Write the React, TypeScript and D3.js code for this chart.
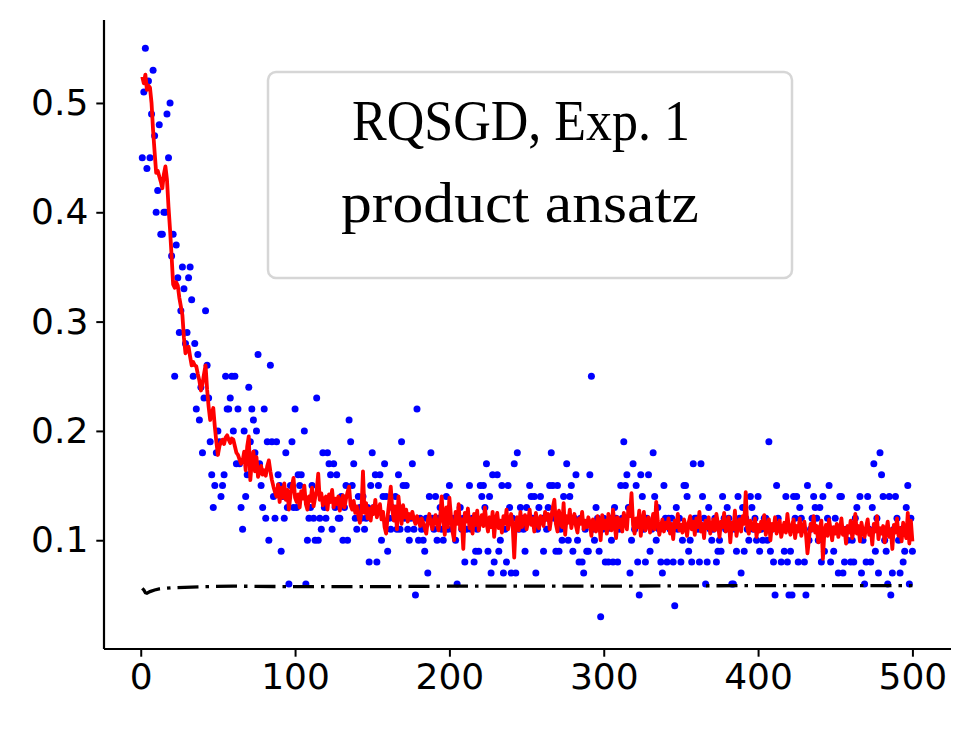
import React, { useEffect, useRef } from 'react';
import * as d3 from 'd3';

// sampled loss per iteration (blue dots), iterations 1..500
const shotLoss = [
  0.45, 0.51, 0.55, 0.44, 0.52, 0.45, 0.49, 0.53, 0.47, 0.40,
  0.42, 0.48, 0.38, 0.38, 0.40, 0.40, 0.49, 0.45, 0.50, 0.36,
  0.38, 0.25, 0.37, 0.34, 0.29, 0.31, 0.35, 0.33, 0.28, 0.29,
  0.34, 0.35, 0.32, 0.25, 0.28, 0.22, 0.27, 0.21, 0.24, 0.18,
  0.23, 0.31, 0.26, 0.23, 0.19, 0.16, 0.13, 0.15, 0.18, 0.20,
  0.19, 0.14, 0.15, 0.16, 0.25, 0.22, 0.22, 0.23, 0.25, 0.20,
  0.25, 0.17, 0.22, 0.17, 0.13, 0.11, 0.20, 0.14, 0.16, 0.24,
  0.19, 0.22, 0.21, 0.18, 0.20, 0.27, 0.17, 0.15, 0.13, 0.22,
  0.12, 0.19, 0.10, 0.26, 0.19, 0.14, 0.12, 0.19, 0.16, 0.15,
  0.09, 0.14, 0.12, 0.18, 0.13, 0.06, 0.15, 0.19, 0.13, 0.22,
  0.13, 0.16, 0.15, 0.16, 0.14, 0.20, 0.06, 0.10, 0.12, 0.13,
  0.15, 0.12, 0.10, 0.23, 0.10, 0.12, 0.11, 0.18, 0.13, 0.12,
  0.18, 0.17, 0.16, 0.11, 0.17, 0.13, 0.16, 0.12, 0.12, 0.14,
  0.10, 0.13, 0.15, 0.10, 0.21, 0.19, 0.15, 0.17, 0.12, 0.11,
  0.14, 0.13, 0.12, 0.14, 0.11, 0.12, 0.13, 0.08, 0.15, 0.18,
  0.13, 0.16, 0.08, 0.15, 0.16, 0.10, 0.14, 0.17, 0.14, 0.09,
  0.12, 0.11, 0.13, 0.12, 0.14, 0.11, 0.16, 0.11, 0.19, 0.15,
  0.12, 0.15, 0.11, 0.10, 0.12, 0.17, 0.11, 0.05, 0.22, 0.10,
  0.12, 0.11, 0.10, 0.09, 0.12, 0.07, 0.14, 0.18, 0.12, 0.11,
  0.14, 0.10, 0.12, 0.13, 0.11, 0.10, 0.12, 0.14, 0.11, 0.15,
  0.12, 0.11, 0.12, 0.10, 0.06, 0.12, 0.13, 0.11, 0.12, 0.08,
  0.11, 0.12, 0.15, 0.11, 0.12, 0.08, 0.09, 0.11, 0.09, 0.15,
  0.14, 0.15, 0.13, 0.17, 0.09, 0.14, 0.07, 0.16, 0.08, 0.12,
  0.16, 0.09, 0.10, 0.15, 0.07, 0.11, 0.08, 0.15, 0.13, 0.07,
  0.12, 0.17, 0.07, 0.18, 0.11, 0.13, 0.12, 0.11, 0.09, 0.13,
  0.12, 0.15, 0.14, 0.12, 0.14, 0.07, 0.11, 0.13, 0.14, 0.12,
  0.09, 0.12, 0.11, 0.13, 0.15, 0.18, 0.15, 0.12, 0.09, 0.15,
  0.09, 0.11, 0.10, 0.14, 0.12, 0.17, 0.10, 0.14, 0.15, 0.09,
  0.12, 0.16, 0.10, 0.08, 0.12, 0.08, 0.07, 0.11, 0.09, 0.09,
  0.16, 0.25, 0.11, 0.10, 0.13, 0.12, 0.09, 0.03, 0.11, 0.12,
  0.08, 0.11, 0.08, 0.12, 0.10, 0.08, 0.13, 0.12, 0.08, 0.11,
  0.15, 0.12, 0.19, 0.15, 0.16, 0.13, 0.07, 0.10, 0.17, 0.11,
  0.15, 0.08, 0.05, 0.16, 0.14, 0.11, 0.08, 0.12, 0.16, 0.09,
  0.11, 0.18, 0.14, 0.10, 0.13, 0.11, 0.08, 0.07, 0.15, 0.12,
  0.08, 0.12, 0.11, 0.12, 0.08, 0.04, 0.13, 0.11, 0.12, 0.08,
  0.10, 0.15, 0.15, 0.14, 0.09, 0.10, 0.08, 0.17, 0.12, 0.12,
  0.11, 0.08, 0.17, 0.14, 0.12, 0.06, 0.08, 0.13, 0.11, 0.10,
  0.11, 0.12, 0.08, 0.09, 0.10, 0.09, 0.14, 0.12, 0.11, 0.13,
  0.12, 0.11, 0.06, 0.06, 0.11, 0.09, 0.14, 0.12, 0.07, 0.13,
  0.09, 0.12, 0.11, 0.10, 0.14, 0.13, 0.11, 0.12, 0.10, 0.14,
  0.09, 0.11, 0.10, 0.12, 0.12, 0.10, 0.19, 0.09, 0.11, 0.08,
  0.05, 0.15, 0.12, 0.11, 0.08, 0.11, 0.09, 0.14, 0.08, 0.05,
  0.09, 0.05, 0.14, 0.12, 0.14, 0.08, 0.13, 0.12, 0.11, 0.08,
  0.05, 0.15, 0.10, 0.11, 0.12, 0.14, 0.13, 0.12, 0.10, 0.13,
  0.08, 0.14, 0.09, 0.11, 0.12, 0.15, 0.08, 0.11, 0.09, 0.12,
  0.11, 0.07, 0.14, 0.14, 0.07, 0.08, 0.11, 0.10, 0.11, 0.08,
  0.10, 0.08, 0.12, 0.13, 0.11, 0.14, 0.07, 0.10, 0.06, 0.08,
  0.14, 0.11, 0.08, 0.13, 0.17, 0.09, 0.12, 0.07, 0.18, 0.16,
  0.14, 0.10, 0.09, 0.06, 0.14, 0.05, 0.07, 0.11, 0.14, 0.12,
  0.10, 0.07, 0.11, 0.08, 0.09, 0.13, 0.15, 0.06, 0.12, 0.09,
];

// red curve, iterations 1..500
const meanLoss = [
  0.524, 0.518, 0.526, 0.512, 0.516, 0.514, 0.500, 0.475, 0.455, 0.436,
  0.438, 0.433, 0.428, 0.422, 0.435, 0.442, 0.430, 0.405, 0.384, 0.360,
  0.334, 0.331, 0.336, 0.333, 0.322, 0.314, 0.306, 0.285, 0.271, 0.274,
  0.277, 0.268, 0.260, 0.263, 0.260, 0.259, 0.252, 0.246, 0.237, 0.243,
  0.252, 0.260, 0.238, 0.222, 0.210, 0.216, 0.221, 0.204, 0.190, 0.178,
  0.186, 0.190, 0.192, 0.188, 0.194, 0.196, 0.192, 0.189, 0.193, 0.192,
  0.186, 0.180, 0.178, 0.174, 0.170, 0.172, 0.181, 0.164, 0.186, 0.195,
  0.155, 0.172, 0.181, 0.163, 0.176, 0.158, 0.162, 0.168, 0.160, 0.164,
  0.159, 0.168, 0.173, 0.163, 0.155, 0.149, 0.144, 0.140, 0.151, 0.135,
  0.148, 0.139, 0.152, 0.137, 0.146, 0.128, 0.141, 0.150, 0.157, 0.139,
  0.135, 0.142, 0.130, 0.145, 0.138, 0.150, 0.133, 0.128, 0.140, 0.136,
  0.148, 0.131, 0.139, 0.145, 0.161, 0.137, 0.143, 0.132, 0.138, 0.140,
  0.128, 0.142, 0.135, 0.146, 0.130, 0.138, 0.133, 0.140, 0.127, 0.135,
  0.141, 0.130, 0.138, 0.144, 0.149, 0.132, 0.128, 0.136, 0.125, 0.131,
  0.122, 0.116, 0.127, 0.163, 0.125, 0.134, 0.120, 0.129, 0.118, 0.131,
  0.124, 0.137, 0.121, 0.128, 0.133, 0.119, 0.126, 0.112, 0.106, 0.122,
  0.135, 0.149, 0.128, 0.118, 0.131, 0.110, 0.140, 0.125, 0.115, 0.132,
  0.121, 0.128, 0.117, 0.124, 0.120, 0.126, 0.119, 0.115, 0.122, 0.118,
  0.113, 0.120, 0.116, 0.111, 0.106, 0.118, 0.124, 0.115, 0.110, 0.119,
  0.123, 0.114, 0.109, 0.121, 0.140, 0.118, 0.105, 0.130, 0.112, 0.139,
  0.122, 0.108, 0.100, 0.126, 0.115, 0.133, 0.110, 0.119, 0.092, 0.125,
  0.117, 0.129, 0.111, 0.120, 0.106, 0.124, 0.114, 0.127, 0.109, 0.118,
  0.123, 0.113, 0.130, 0.116, 0.108, 0.121, 0.112, 0.126, 0.103, 0.119,
  0.125, 0.111, 0.118, 0.107, 0.122, 0.115, 0.128, 0.110, 0.117, 0.124,
  0.113, 0.084, 0.116, 0.121, 0.109, 0.126, 0.112, 0.118, 0.123, 0.110,
  0.117, 0.128, 0.114, 0.120, 0.108, 0.125, 0.116, 0.111, 0.122, 0.118,
  0.113, 0.126, 0.119, 0.124, 0.110, 0.121, 0.130, 0.137, 0.115, 0.108,
  0.127, 0.118, 0.112, 0.134, 0.105, 0.122, 0.116, 0.128, 0.111, 0.119,
  0.124, 0.113, 0.107, 0.120, 0.115, 0.126, 0.110, 0.118, 0.112, 0.121,
  0.116, 0.104, 0.119, 0.113, 0.108, 0.122, 0.117, 0.100, 0.123, 0.111,
  0.118, 0.106, 0.124, 0.113, 0.109, 0.128, 0.115, 0.102, 0.121, 0.112,
  0.119, 0.108, 0.125, 0.116, 0.110, 0.130, 0.122, 0.143, 0.114, 0.106,
  0.120, 0.112, 0.127, 0.104, 0.118, 0.126, 0.109, 0.115, 0.121, 0.107,
  0.113, 0.124, 0.110, 0.135, 0.118, 0.105, 0.112, 0.119, 0.108, 0.116,
  0.111, 0.120, 0.106, 0.115, 0.101, 0.118, 0.112, 0.124, 0.109, 0.114,
  0.107, 0.119, 0.113, 0.104, 0.116, 0.122, 0.110, 0.117, 0.105, 0.120,
  0.112, 0.126, 0.108, 0.115, 0.102, 0.118, 0.111, 0.121, 0.106, 0.113,
  0.119, 0.109, 0.124, 0.115, 0.103, 0.117, 0.112, 0.125, 0.108, 0.114,
  0.121, 0.098, 0.116, 0.110, 0.127, 0.104, 0.113, 0.119, 0.108, 0.122,
  0.115, 0.144, 0.111, 0.106, 0.118, 0.112, 0.109, 0.120, 0.103, 0.114,
  0.108, 0.117, 0.111, 0.123, 0.105, 0.113, 0.119, 0.100, 0.115, 0.109,
  0.121, 0.106, 0.112, 0.118, 0.103, 0.110, 0.116, 0.107, 0.124, 0.111,
  0.105, 0.114, 0.119, 0.102, 0.113, 0.108, 0.120, 0.104, 0.111, 0.117,
  0.106, 0.088, 0.101, 0.115, 0.109, 0.122, 0.107, 0.113, 0.098, 0.110,
  0.118, 0.083, 0.108, 0.114, 0.104, 0.119, 0.110, 0.100, 0.112, 0.106,
  0.115, 0.103, 0.109, 0.120, 0.105, 0.111, 0.097, 0.113, 0.107, 0.118,
  0.102, 0.110, 0.124, 0.106, 0.113, 0.099, 0.116, 0.108, 0.103, 0.112,
  0.119, 0.105, 0.110, 0.096, 0.115, 0.108, 0.122, 0.101, 0.111, 0.106,
  0.113, 0.098, 0.109, 0.117, 0.103, 0.110, 0.092, 0.114, 0.107, 0.120,
  0.104, 0.111, 0.099, 0.116, 0.108, 0.102, 0.125, 0.097, 0.118, 0.099,
];

// dash-dot reference line
const refIters = [1, 2, 3, 4, 6, 9, 12, 20, 40, 60, 100, 150, 200, 300, 400, 500];
const refLoss = [0.056, 0.0545, 0.052, 0.0515, 0.053, 0.0545, 0.0555, 0.0565, 0.0575, 0.058, 0.0575, 0.0575, 0.058, 0.058, 0.0585, 0.0585];

const xTicks = [0, 100, 200, 300, 400, 500];
const yTicks = [0.1, 0.2, 0.3, 0.4, 0.5];
const boxLines = ['RQSGD, Exp. 1', 'product ansatz'];

const W = 969;
const H = 738;

export default function App() {
  const svgRef = useRef<SVGSVGElement>(null);

  useEffect(() => {
    if (!svgRef.current) return;
    const svg = d3.select(svgRef.current);
    svg.selectAll('*').remove();

    const left = 104;
    const right = 951;
    const top = 20;
    const bottom = 649;

    const x = d3.scaleLinear().domain([-23.8, 525]).range([left, right]);
    const y = d3.scaleLinear().domain([0.0005, 0.5759]).range([bottom, top]);

    svg.append('rect').attr('width', W).attr('height', H).attr('fill', '#fff');

    const plot = svg.append('g');

    // blue dots
    plot
      .selectAll('circle')
      .data(shotLoss)
      .enter()
      .append('circle')
      .attr('cx', (_d, i) => x(i + 1))
      .attr('cy', d => y(d))
      .attr('r', 3.5)
      .attr('fill', '#0000ff');

    // red curve
    const line = d3
      .line<number>()
      .x((_d, i) => x(i + 1))
      .y(d => y(d));

    plot
      .append('path')
      .datum(meanLoss)
      .attr('d', line)
      .attr('fill', 'none')
      .attr('stroke', '#ff0000')
      .attr('stroke-width', 3.8)
      .attr('stroke-linejoin', 'round');

    // black dash-dot
    const refLine = d3
      .line<number>()
      .x((_d, i) => x(refIters[i]))
      .y(d => y(d));

    plot
      .append('path')
      .datum(refLoss)
      .attr('d', refLine)
      .attr('fill', 'none')
      .attr('stroke', '#000')
      .attr('stroke-width', 3.3)
      .attr('stroke-dasharray', '21,7,3.5,7');

    // text box
    const box = svg.append('g');
    box
      .append('rect')
      .attr('x', 268)
      .attr('y', 72)
      .attr('width', 524)
      .attr('height', 206)
      .attr('rx', 8)
      .attr('fill', '#fff')
      .attr('stroke', '#d6d6d6')
      .attr('stroke-width', 2.5);

    const lineX = [352, 341];
    const lineY = [140, 222];
    const lineLen = [338, 358];
    boxLines.forEach((t, i) => {
      box
        .append('text')
        .attr('x', lineX[i])
        .attr('y', lineY[i])
        .attr('textLength', lineLen[i])
        .attr('lengthAdjust', 'spacingAndGlyphs')
        .style('font-family', '"Liberation Serif", "DejaVu Serif", serif')
        .style('font-size', '57px')
        .style('fill', '#000')
        .text(t);
    });

    // axes
    const xAxis = d3
      .axisBottom(x)
      .tickValues(xTicks)
      .tickSize(7.7)
      .tickPadding(7)
      .tickFormat(d3.format('d'));
    const gx = svg
      .append('g')
      .attr('transform', `translate(0,${bottom})`)
      .call(xAxis);
    gx.select('.domain').attr('d', `M${left},0H${right}`).attr('stroke-width', 2.2);

    const yAxis = d3
      .axisLeft(y)
      .tickValues(yTicks)
      .tickSize(7.7)
      .tickPadding(8)
      .tickFormat(d3.format('.1f'));
    const gy = svg
      .append('g')
      .attr('transform', `translate(${left},0)`)
      .call(yAxis);
    gy.select('.domain').attr('d', `M0,${top}V${bottom}`).attr('stroke-width', 2.2);

    [gx, gy].forEach(g => {
      g.selectAll('.tick line').attr('stroke-width', 2);
      g.selectAll('text')
        .style('font-family', '"DejaVu Sans", sans-serif')
        .style('font-size', '36px')
        .style('fill', '#000');
    });
  }, []);

  return (
    <div style={{ position: 'absolute', left: 0, top: 0 }}>
      <svg ref={svgRef} width={W} height={H} style={{ display: 'block' }} />
    </div>
  );
}
